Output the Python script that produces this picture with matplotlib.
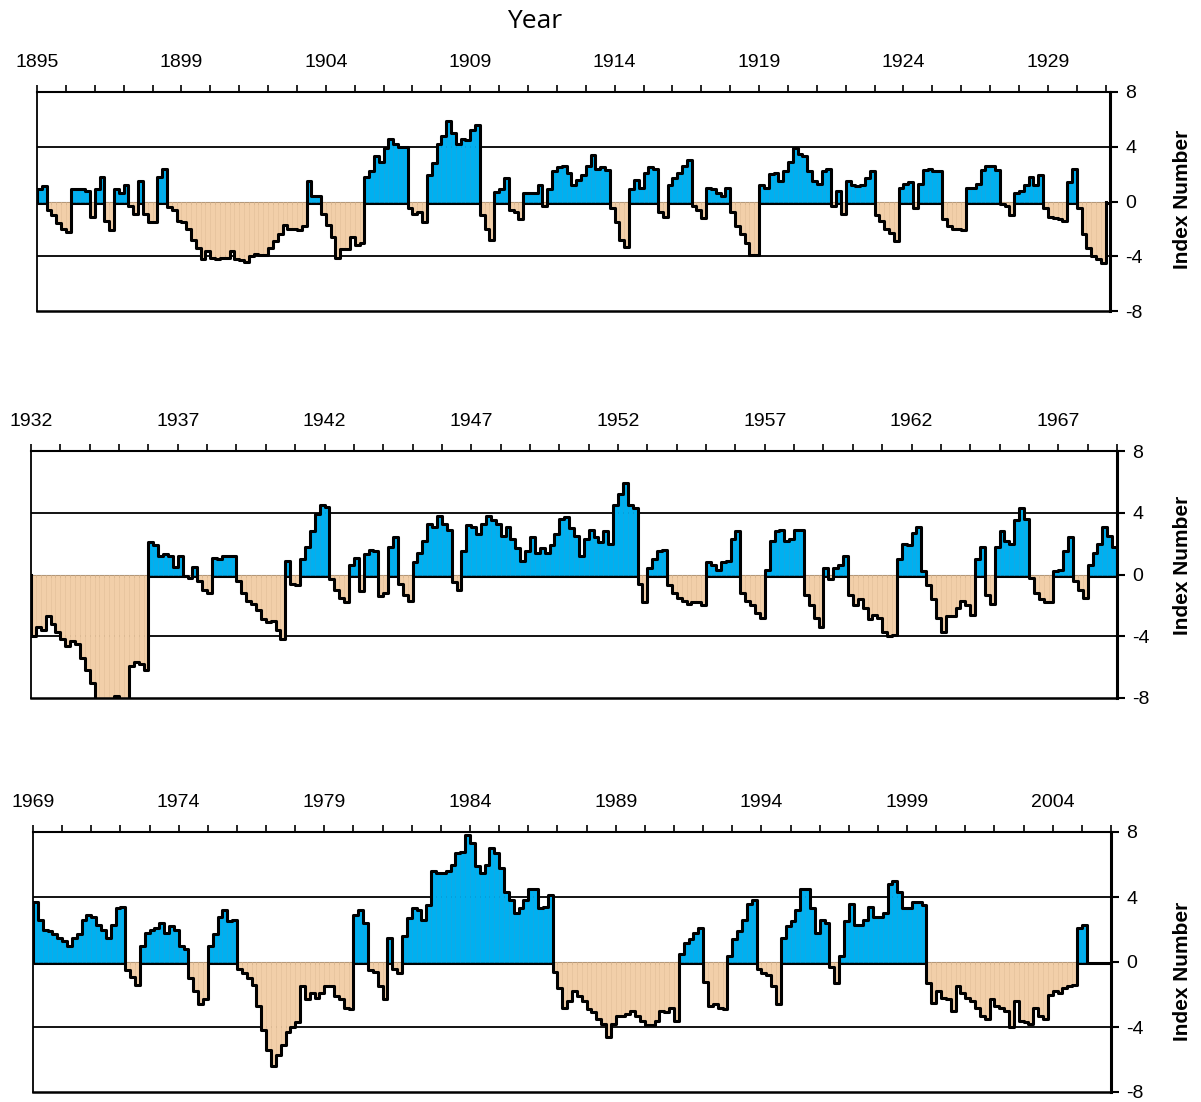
import numpy as np
import matplotlib
matplotlib.use("Agg")
import matplotlib.pyplot as plt
from matplotlib.transforms import offset_copy

plt.rcParams['font.family'] = ['Liberation Sans', 'DejaVu Sans']

# ---------------- data: bimonthly index values (6 per year) ----------------
p1_start = 1895
p1_vals = [
    0.9, 1.1, -0.6, -1.0, -1.6, -2.0,   # 1895
    -2.2, 0.9, 0.9, 0.9, 0.8, -1.1,     # 1896
    0.9, 1.8, -1.4, -2.1, 0.9, 0.6,     # 1897
    1.2, -0.3, -0.9, 1.5, -0.9, -1.5,   # 1898
    -1.5, 1.8, 2.4, -0.4, -0.6, -1.4,   # 1899
    -1.5, -2.0, -2.8, -3.4, -4.2, -3.6, # 1900
    -4.1, -4.2, -4.1, -4.1, -3.6, -4.2, # 1901
    -4.3, -4.4, -4.0, -3.8, -3.9, -3.9, # 1902
    -3.4, -2.9, -2.4, -1.7, -2.0, -2.0, # 1903
    -2.1, -1.8, 1.5, 0.4, 0.4, -0.9,    # 1904
    -1.7, -2.6, -4.1, -3.5, -3.5, -2.6, # 1905
    -3.2, -3.0, 1.8, 2.2, 3.3, 2.9,     # 1906
    3.9, 4.6, 4.2, 4.0, 4.0, -0.5,      # 1907
    -0.9, -0.8, -1.5, 1.9, 2.8, 4.2,    # 1908
    4.8, 5.9, 5.0, 4.2, 4.6, 4.5,       # 1909
    5.2, 5.6, -1.0, -2.0, -2.8, 0.7,    # 1910
    0.9, 1.7, -0.6, -0.8, -1.3, 0.6,    # 1911
    0.6, 0.6, 1.2, -0.3, 0.9, 2.2,      # 1912
    2.5, 2.6, 2.1, 1.2, 1.6, 1.9,       # 1913
    2.6, 3.4, 2.4, 2.5, 2.3, -0.5,      # 1914
    -1.5, -2.8, -3.3, 0.9, 1.6, 1.0,    # 1915
    2.1, 2.5, 2.4, -0.8, -1.1, 1.2,     # 1916
    1.7, 2.1, 2.6, 3.0, -0.3, -0.6,     # 1917
    -1.2, 1.0, 0.9, 0.6, 0.4, 1.0,      # 1918
    -0.8, -1.8, -2.4, -3.0, -3.9, -3.9, # 1919
    1.2, 1.0, 2.0, 2.1, 1.5, 2.2,       # 1920
    2.9, 3.9, 3.5, 3.3, 2.2, 1.5,       # 1921
    1.3, 2.2, 2.4, -0.3, 0.8, -0.9,     # 1922
    1.5, 1.2, 1.1, 1.2, 1.7, 2.2,       # 1923
    -1.0, -1.4, -2.0, -2.3, -2.9, 1.0,  # 1924
    1.3, 1.4, -0.5, 1.3, 2.3, 2.4,      # 1925
    2.2, 2.2, -1.3, -1.8, -2.0, -2.0,   # 1926
    -2.1, 1.0, 1.0, 1.3, 2.3, 2.6,      # 1927
    2.6, 2.3, -0.2, -0.3, -1.0, 0.6,    # 1928
    0.8, 1.2, 1.8, 1.2, 1.9, -0.5,      # 1929
    -1.1, -1.2, -1.3, -1.4, 1.4, 2.4,   # 1930
    -0.5, -2.4, -3.4, -4.0, -4.2, -4.5, # 1931
]
p1_tick_years = [1895, 1900, 1905, 1910, 1915, 1920, 1925, 1930]
p1_tick_labels = ['1895', '1899', '1904', '1909', '1914', '1919', '1924', '1929']

p2_start = 1932
p2_vals = [
    -4.0, -3.4, -3.6, -2.7, -3.2, -3.7, # 1932
    -4.2, -4.6, -4.3, -4.5, -5.4, -6.2, # 1933
    -7.0, -8.3, -8.6, -8.5, -8.4, -7.9, # 1934
    -8.2, -8.3, -5.9, -5.7, -5.8, -6.2, # 1935
    2.1, 1.9, 1.2, 1.3, 1.2, 0.5,       # 1936
    1.2, -0.1, -0.2, 0.5, -0.4, -1.0,   # 1937
    -1.2, 1.1, 1.0, 1.2, 1.2, 1.2,      # 1938
    -0.4, -1.2, -1.7, -1.9, -2.3, -2.9, # 1939
    -3.1, -3.0, -3.6, -4.2, 0.9, -0.6,  # 1940
    -0.7, 1.0, 1.8, 2.8, 3.9, 4.5,      # 1941
    4.4, -0.3, -1.0, -1.5, -1.8, 0.6,   # 1942
    1.1, -1.1, 1.3, 1.6, 1.5, -1.4,     # 1943
    -1.2, 1.8, 2.4, -0.6, -1.3, -1.7,   # 1944
    0.8, 1.4, 2.2, 3.3, 3.1, 3.8,       # 1945
    3.3, 2.9, -0.5, -1.0, 1.5, 3.2,     # 1946
    3.1, 2.6, 3.3, 3.8, 3.5, 3.3,       # 1947
    2.5, 3.1, 2.3, 1.7, 0.9, 1.5,       # 1948
    2.4, 1.4, 1.7, 1.4, 1.9, 2.6,       # 1949
    3.6, 3.7, 3.0, 2.5, 1.2, 2.3,       # 1950
    2.9, 2.4, 2.1, 2.8, 2.0, 4.5,       # 1951
    5.2, 5.9, 4.5, 4.3, -0.6, -1.8,     # 1952
    0.4, 1.0, 1.5, 1.6, -0.7, -1.2,     # 1953
    -1.5, -1.7, -1.9, -1.8, -1.8, -2.0, # 1954
    0.8, 0.6, 0.3, 0.8, 0.9, 2.3,       # 1955
    2.8, -1.2, -1.7, -2.0, -2.5, -2.8,  # 1956
    0.3, 2.2, 2.8, 2.9, 2.2, 2.3,       # 1957
    2.9, 2.9, -1.3, -2.0, -2.8, -3.4,   # 1958
    0.4, -0.3, 0.4, 0.6, 1.2, -1.3,     # 1959
    -2.0, -1.6, -2.2, -2.9, -2.6, -2.8, # 1960
    -3.7, -4.0, -3.9, 1.0, 2.0, 1.9,    # 1961
    2.7, 3.1, 0.2, -0.7, -1.6, -2.8,    # 1962
    -3.7, -2.7, -2.7, -2.2, -1.7, -2.0, # 1963
    -2.6, 1.0, 1.8, -1.3, -1.9, 1.8,    # 1964
    2.8, 2.2, 2.0, 3.5, 4.3, 3.6,       # 1965
    -0.2, -1.2, -1.6, -1.8, -1.8, 0.2,  # 1966
    0.3, 1.5, 2.4, -0.4, -1.0, -1.5,    # 1967
    0.6, 1.4, 2.0, 3.1, 2.5, 1.8,       # 1968
]
p2_tick_years = [1932, 1937, 1942, 1947, 1952, 1957, 1962, 1967]
p2_tick_labels = ['1932', '1937', '1942', '1947', '1952', '1957', '1962', '1967']

p3_start = 1969
p3_vals = [
    3.7, 2.6, 2.0, 1.9, 1.7, 1.5,       # 1969
    1.3, 1.0, 1.5, 1.7, 2.6, 2.9,       # 1970
    2.8, 2.3, 2.0, 1.5, 2.3, 3.3,       # 1971
    3.4, -0.5, -0.9, -1.4, 1.0, 1.8,    # 1972
    2.0, 2.1, 2.4, 1.8, 2.2, 2.0,       # 1973
    1.0, 0.8, -1.0, -1.8, -2.6, -2.3,   # 1974
    1.0, 1.7, 2.8, 3.2, 2.5, 2.6,       # 1975
    -0.4, -0.7, -1.0, -1.4, -2.7, -4.2, # 1976
    -5.4, -6.4, -5.7, -5.1, -4.3, -4.0, # 1977
    -3.7, -1.5, -2.3, -1.9, -2.2, -1.9, # 1978
    -1.5, -1.5, -2.1, -2.3, -2.8, -2.9, # 1979
    2.9, 3.2, 2.4, -0.5, -0.6, -1.5,    # 1980
    -2.3, 1.5, -0.4, -0.7, 1.6, 2.7,    # 1981
    3.3, 3.2, 2.6, 3.5, 5.6, 5.5,       # 1982
    5.5, 5.6, 6.0, 6.7, 6.8, 7.8,       # 1983
    7.3, 5.9, 5.5, 6.0, 7.0, 6.7,       # 1984
    5.8, 4.3, 3.8, 3.0, 3.3, 3.8,       # 1985
    4.5, 4.5, 3.3, 3.4, 4.1, -0.6,      # 1986
    -1.6, -2.8, -2.4, -1.8, -2.1, -2.4, # 1987
    -2.9, -3.1, -3.5, -3.8, -4.6, -3.8, # 1988
    -3.3, -3.3, -3.2, -3.0, -3.3, -3.6, # 1989
    -3.9, -3.9, -3.6, -3.0, -3.1, -2.8, # 1990
    -3.6, 0.5, 1.2, 1.4, 1.8, 2.1,      # 1991
    -1.2, -2.7, -2.6, -2.8, -2.9, 0.4,  # 1992
    1.4, 1.9, 2.6, 3.6, 3.8, -0.4,      # 1993
    -0.7, -0.8, -1.5, -2.6, 1.5, 2.2,   # 1994
    2.5, 3.2, 4.5, 4.5, 3.3, 1.8,       # 1995
    2.6, 2.4, -0.3, -1.3, 0.4, 2.5,     # 1996
    3.6, 2.3, 2.3, 2.6, 3.4, 2.8,       # 1997
    2.8, 3.0, 4.8, 5.0, 4.3, 3.3,       # 1998
    3.3, 3.7, 3.7, 3.5, -1.3, -2.5,     # 1999
    -1.8, -2.2, -2.3, -3.0, -1.5, -1.9, # 2000
    -2.2, -2.4, -2.8, -3.3, -3.5, -2.3, # 2001
    -2.7, -2.8, -3.0, -4.0, -2.4, -3.6, # 2002
    -3.7, -3.8, -2.8, -3.3, -3.5, -2.0, # 2003
    -1.8, -1.9, -1.6, -1.5, -1.4, 2.1,  # 2004
    2.3,                                # 2005
]
p3_tick_years = [1969, 1974, 1979, 1984, 1989, 1994, 1999, 2004]
p3_tick_labels = ['1969', '1974', '1979', '1984', '1989', '1994', '1999', '2004']

y_ticks = [-8, -4, 0, 4, 8]
y_tick_labels = ['-8', '-4', '0', '4', '8']

BLUE = '#00B0F0'
BLUE_EDGE = '#0AA2DE'
TAN = '#F2CFA9'
TAN_EDGE = '#E3BE96'

W, H = 1201, 1102
fig = plt.figure(figsize=(W / 100, H / 100), dpi=100)


def frac(left, top, right, bottom):
    return [left / W, 1 - bottom / H, (right - left) / W, (bottom - top) / H]


panels = [
    (frac(37, 92, 1110, 311), p1_start, p1_vals, 37.15, p1_tick_years, p1_tick_labels, 199),
    (frac(31, 451, 1117, 698), p2_start, p2_vals, 37.0, p2_tick_years, p2_tick_labels, 565),
    (frac(33, 832, 1111, 1092), p3_start, p3_vals, 37.0, p3_tick_years, p3_tick_labels, 971),
]

for rect, start, vals, span, tyears, tlabels, ylab in panels:
    ax = fig.add_axes(rect)
    v = np.array(vals, dtype=float)
    n = len(v)
    edges = start + np.arange(n + 1) / 6.0
    pos = v >= 0
    ax.bar(edges[:-1][pos], v[pos], width=1 / 6.0, align='edge', color=BLUE,
           edgecolor=BLUE_EDGE, linewidth=0.4, zorder=2)
    ax.bar(edges[:-1][~pos], v[~pos], width=1 / 6.0, align='edge', color=TAN,
           edgecolor=TAN_EDGE, linewidth=0.4, zorder=2)
    xs = np.concatenate([[edges[0]], edges])
    ys = np.concatenate([[0.0], v, [0.0]])
    ax.step(xs, ys, where='post', color='black', lw=2.2, zorder=3,
            solid_joinstyle='round')

    ax.set_xlim(start, start + span)
    ax.set_ylim(-8, 8)

    # reference lines
    ax.axhline(4, color='black', lw=1.3, zorder=1)
    ax.axhline(-4, color='black', lw=1.3, zorder=1)
    off = offset_copy(ax.transData, fig=fig, x=0, y=-1.0, units='dots')
    ax.plot([start, start + span], [0, 0], color='black', lw=2.2, zorder=1.5,
            transform=off, solid_capstyle='butt')

    # x ticks on top
    ax.xaxis.tick_top()
    ax.set_xticks(tyears)
    ax.set_xticklabels(tlabels)
    ax.set_xticks(np.arange(start, start + 38), minor=True)
    ax.tick_params(axis='x', which='both', direction='out', length=5, width=1.2,
                   top=True, bottom=False, labelsize=14, pad=10)

    # y ticks on right
    ax.yaxis.tick_right()
    ax.set_yticks(y_ticks)
    ax.set_yticklabels(y_tick_labels)
    ax.tick_params(axis='y', which='both', direction='out', length=6, width=1.5,
                   right=True, left=False, labelsize=14, pad=5)

    ax.spines['left'].set_linewidth(1.3)
    ax.spines['top'].set_linewidth(1.5)
    ax.spines['bottom'].set_linewidth(1.8)
    ax.spines['right'].set_linewidth(2.2)

    fig.text(1183 / W, 1 - ylab / H, 'Index Number', rotation=90, ha='center',
             va='center', fontsize=15, fontweight='bold')

fig.text(535 / W, 1 - 22 / H, 'Year', ha='center', va='center', fontsize=19,
         family=['Open Sans', 'DejaVu Sans'])

fig.savefig('out.png', dpi=100)
